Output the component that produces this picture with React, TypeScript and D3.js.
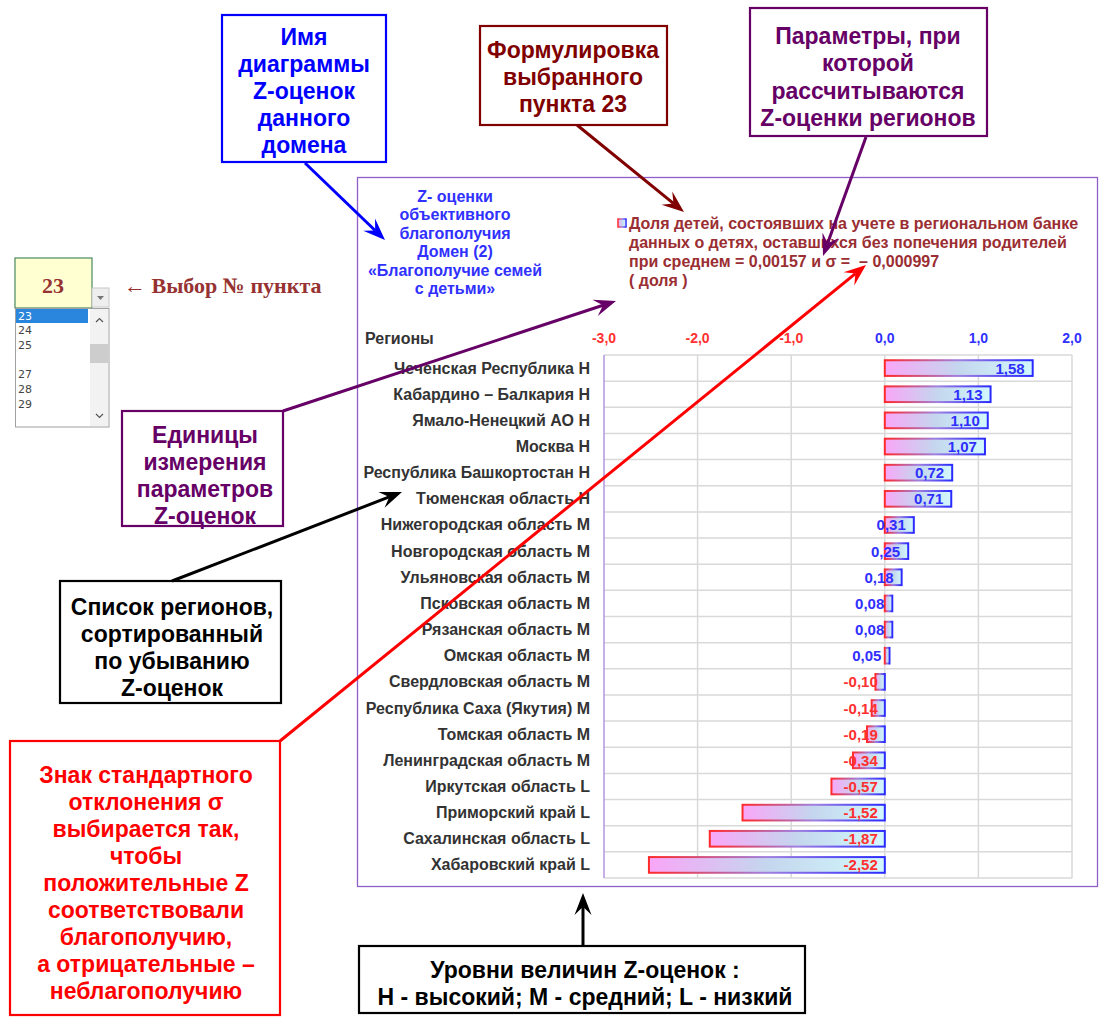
import React from "react";
import * as d3 from "d3";

const regions = [
  "Чеченская Республика H",
  "Кабардино – Балкария H",
  "Ямало-Ненецкий АО H",
  "Москва H",
  "Республика Башкортостан H",
  "Тюменская область H",
  "Нижегородская область M",
  "Новгородская область M",
  "Ульяновская область M",
  "Псковская область M",
  "Рязанская область M",
  "Омская область M",
  "Свердловская область M",
  "Республика Саха (Якутия) M",
  "Томская область M",
  "Ленинградская область M",
  "Иркутская область L",
  "Приморский край L",
  "Сахалинская область L",
  "Хабаровский край L",
];
const zScores = [1.58, 1.13, 1.1, 1.07, 0.72, 0.71, 0.31, 0.25, 0.18, 0.08, 0.08, 0.05, -0.1, -0.14, -0.19, -0.34, -0.57, -1.52, -1.87, -2.52];
const xTicks = [-3, -2, -1, 0, 1, 2];
const chartTitle = ["Z- оценки", "объективного", "благополучия", "Домен (2)", "«Благополучие семей", "с детьми»"];
const legendLines = [
  "Доля детей, состоявших на учете в региональном банке",
  "данных о детях, оставшихся без попечения родителей",
  "при среднем = 0,00157 и σ =  – 0,000997",
  "( доля )",
];
const listItems = ["23", "24", "25", "", "27", "28", "29"];

const SANS = "'Liberation Sans', Arial, sans-serif";
const SERIF = "'Liberation Serif', 'Times New Roman', serif";

const fmt = (v: number) => v.toFixed(2).replace(".", ",");
const fmtTick = (v: number) => v.toFixed(1).replace(".", ",");

function Arrow({ x1, y1, x2, y2, color, w = 3, L = 22, W = 17 }: any) {
  const a = Math.atan2(y2 - y1, x2 - x1);
  const c = Math.cos(a), s = Math.sin(a);
  const pt = (px: number, py: number) => [x2 + px * c - py * s, y2 + px * s + py * c];
  const p1 = pt(-L, -W / 2), p2 = pt(-L * 0.62, 0), p3 = pt(-L, W / 2);
  return (
    <g>
      <line x1={x1} y1={y1} x2={p2[0]} y2={p2[1]} stroke={color} strokeWidth={w} />
      <path d={`M${x2},${y2}L${p1[0]},${p1[1]}L${p2[0]},${p2[1]}L${p3[0]},${p3[1]}Z`} fill={color} />
    </g>
  );
}

function Box({ x, y, w, h, color, lines, cx, y0, dy, fill = color, size = 23 }: any) {
  return (
    <g>
      <rect x={x} y={y} width={w} height={h} fill="#fff" stroke={color} strokeWidth={2.2} />
      {lines.map((t: string, i: number) => (
        <text key={i} x={cx} y={y0 + i * dy} textAnchor="middle" dominantBaseline="central"
          fontFamily={SANS} fontWeight="bold" fontSize={size} fill={fill}>{t}</text>
      ))}
    </g>
  );
}

export default function App() {
  const x = d3.scaleLinear().domain([-3, 2]).range([604, 1072]);
  const y = d3.scaleBand<string>().domain(regions).range([355, 878]).paddingInner(0.4).paddingOuter(0.2);
  const rowH = (878 - 355) / regions.length;

  return (
    <svg width={1115} height={1035} style={{ position: "absolute", left: 0, top: 0, background: "#fff" }}>
      <defs>
        <linearGradient id="barFill" x1="0" y1="0" x2="1" y2="0">
          <stop offset="0" stopColor="#f9a6f7" />
          <stop offset="0.5" stopColor="#c4d6ee" />
          <stop offset="1" stopColor="#d2f8fc" />
        </linearGradient>
        <linearGradient id="barStroke" x1="0" y1="0" x2="1" y2="0">
          <stop offset="0" stopColor="#ff2a2a" />
          <stop offset="0.5" stopColor="#a080e0" />
          <stop offset="1" stopColor="#2a2aff" />
        </linearGradient>
      </defs>

      {/* Dropdown widget */}
      <rect x={15} y={258} width={77} height={50} fill="#ffffd2" stroke="#4a8a5f" strokeWidth={1.2} />
      <text x={53} y={285} textAnchor="middle" dominantBaseline="central" fontFamily={SERIF} fontWeight="bold" fontSize={22} fill="#963232">23</text>
      <rect x={92} y={288} width={17} height={19} fill="#eeeeee" stroke="#c8c8c8" />
      <path d="M97,296 L104,296 L100.5,300 Z" fill="#777" />
      <rect x={15.5} y={308.5} width={93.5} height={118.5} fill="#fff" stroke="#a0a0a0" />
      <rect x={16} y={309} width={72} height={14} fill="#2a86dc" />
      {listItems.map((t, i) => (
        <text key={i} x={18} y={316 + i * 14.7} dominantBaseline="central" fontFamily="'DejaVu Sans', sans-serif" fontSize={11}
          fill={i === 0 ? "#ffffff" : "#444"}>{t}</text>
      ))}
      <rect x={90} y={309} width={18} height={117} fill="#f2f2f2" />
      <rect x={90} y={344} width={18} height={19} fill="#cdcdcd" />
      <path d="M96,322 L99.5,318.5 L103,322" fill="none" stroke="#555" strokeWidth={1.2} />
      <path d="M96,414 L99.5,417.5 L103,414" fill="none" stroke="#555" strokeWidth={1.2} />
      <text x={124} y={285} dominantBaseline="central" fontFamily={SERIF} fontWeight="bold" fontSize={22} fill="#963232">← Выбор № пункта</text>

      {/* Chart frame */}
      <rect x={357.5} y={177.5} width={740} height={709} fill="#fff" stroke="#8f5ec8" strokeWidth={1.3} />

      {chartTitle.map((t, i) => (
        <text key={i} x={455} y={196 + i * 18.5} textAnchor="middle" dominantBaseline="central"
          fontFamily={SANS} fontWeight="bold" fontSize={16} fill="#3030ff">{t}</text>
      ))}

      <rect x={618} y={219} width={8} height={8} fill="url(#barFill)" stroke="url(#barStroke)" strokeWidth={1.5} />
      {legendLines.map((t, i) => (
        <text key={i} x={629} y={223 + i * 19} dominantBaseline="central" fontFamily={SANS} fontWeight="bold" fontSize={16}
          fill="#9a2e32" style={{ whiteSpace: "pre" }}>{t}</text>
      ))}

      <text x={365} y={338} dominantBaseline="central" fontFamily={SANS} fontWeight="bold" fontSize={16} fill="#333">Регионы</text>

      {/* Grid */}
      {regions.map((r, i) => (
        <line key={r} x1={604} x2={1072} y1={355 + (i + 1) * rowH} y2={355 + (i + 1) * rowH} stroke="#d9d9d9" strokeWidth={1.5} />
      ))}
      <line x1={604} x2={1072} y1={355} y2={355} stroke="#d9d9d9" strokeWidth={1.5} />
      {xTicks.map((t) => (
        <g key={t}>
          <line x1={x(t)} x2={x(t)} y1={355} y2={878} stroke={t === -3 ? "#b596dc" : "#d9d9d9"} strokeWidth={1.5} />
          <text x={x(t)} y={338} textAnchor="middle" dominantBaseline="central" fontFamily={SANS} fontWeight="bold" fontSize={14}
            fill={t < 0 ? "#ff3030" : "#3030ff"}>{fmtTick(t)}</text>
        </g>
      ))}

      {/* Bars */}
      {regions.map((r, i) => {
        const v = zScores[i];
        const x0 = x(Math.min(0, v));
        const x1 = x(Math.max(0, v));
        const yy = y(r)!;
        const cy = yy + y.bandwidth() / 2;
        return (
          <g key={r}>
            <text x={590} y={cy} textAnchor="end" dominantBaseline="central" fontFamily={SANS} fontWeight="bold" fontSize={16} fill="#333">{r}</text>
            <rect x={x0} y={yy} width={Math.max(x1 - x0, 1)} height={y.bandwidth()} fill="url(#barFill)" stroke="url(#barStroke)" strokeWidth={2} />
            <text x={v >= 0 ? x(v) - 8 : x(0) - 7} y={cy} textAnchor="end" dominantBaseline="central" fontFamily={SANS}
              fontWeight="bold" fontSize={15} fill={v >= 0 ? "#2f2fff" : "#ff3030"}>{fmt(v)}</text>
          </g>
        );
      })}

      {/* Annotation boxes */}
      <Box x={222} y={15} w={164} h={147} color="#0000ff" cx={304} y0={37} dy={27}
        lines={["Имя", "диаграммы", "Z-оценок", "данного", "домена"]} />
      <Box x={480} y={26} w={187} h={99} color="#800000" cx={573} y0={50} dy={27}
        lines={["Формулировка", "выбранного", "пункта 23"]} />
      <Box x={750} y={8} w={237} h={128} color="#660066" cx={868} y0={36} dy={27.3}
        lines={["Параметры, при", "которой", "рассчитываются", "Z-оценки регионов"]} />
      <Box x={122} y={411} w={161} h={115} color="#660066" cx={205} y0={435} dy={27}
        lines={["Единицы", "измерения", "параметров", "Z-оценок"]} />
      <Box x={60} y={581} w={221} h={122} color="#000000" cx={172} y0={607} dy={27}
        lines={["Список регионов,", "сортированный", "по убыванию", "Z-оценок"]} />
      <Box x={10} y={741} w={270} h={274} color="#ff0000" cx={146} y0={775} dy={27}
        lines={["Знак стандартного", "отклонения σ", "выбирается так,", "чтобы", "положительные Z", "соответствовали", "благополучию,", "а отрицательные –", "неблагополучию"]} />
      <Box x={359} y={946} w={446} h={67} color="#000000" cx={585} y0={970} dy={27}
        lines={["Уровни величин Z-оценок :", "H - высокий; M - средний; L - низкий"]} />

      {/* Arrows */}
      <Arrow x1={305} y1={163} x2={385} y2={240} color="#0000ff" />
      <Arrow x1={577} y1={125} x2={684} y2={212} color="#800000" />
      <Arrow x1={866} y1={137} x2={823} y2={256} color="#660066" />
      <Arrow x1={283} y1={411} x2={616} y2={301} color="#660066" />
      <Arrow x1={172} y1={581} x2={402} y2={492} color="#000000" />
      <Arrow x1={280} y1={741} x2={866} y2={265} color="#ff0000" />
      <Arrow x1={583} y1={946} x2={583} y2={893} color="#000000" />
    </svg>
  );
}
